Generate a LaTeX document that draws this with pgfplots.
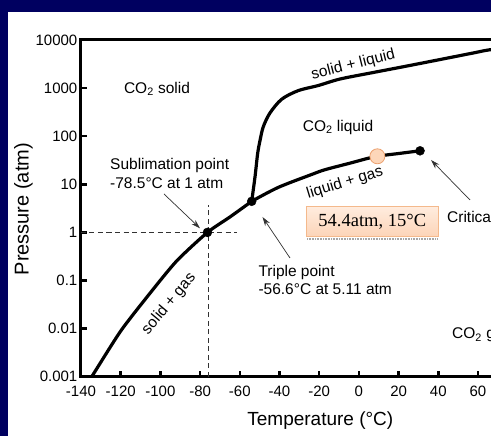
\documentclass[border=0pt]{standalone}
\usepackage{fontspec}
\setmainfont{Liberation Sans}
\newfontfamily\timesfont{Liberation Serif}
\usepackage{pgfplots}
\pgfplotsset{compat=1.18}
\usetikzlibrary{arrows.meta}
\definecolor{navybg}{RGB}{0,0,96}
\definecolor{peachfill}{RGB}{253,214,185}
\definecolor{peachborder}{RGB}{236,160,110}
\definecolor{boxtop}{RGB}{255,236,222}
\definecolor{boxbot}{RGB}{252,212,184}
\definecolor{boxborder}{RGB}{244,185,140}
\definecolor{annot}{RGB}{50,50,50}
\begin{document}
\begin{tikzpicture}[x=1pt,y=1pt]
\useasboundingbox (0,0) rectangle (491,436);
\clip (0,0) rectangle (491,436);
\fill[navybg] (0,0) rectangle (491,436);
\fill[white] (8,0) rectangle (491,424);
\begin{axis}[
  at={(81pt,59.3pt)}, anchor=south west, scale only axis,
  width=436.7pt, height=336.7pt,
  xmin=-140, xmax=80, ymode=log, ymin=1e-3, ymax=1e4,
  xtick={-140,-120,-100,-80,-60,-40,-20,0,20,40,60,80},
  xticklabels={-140,-120,-100,-80,-60,-40,-20,0,20,40,60,80},
  ytick={1e-3,1e-2,1e-1,1,10,100,1000,10000},
  yticklabels={0.001,0.01,0.1,1,10,100,1000,10000},
  yminorticks=false, xminorticks=false,
  tick align=inside, xtick pos=left, ytick pos=left,
  major tick length=6pt,
  every tick/.style={black, line width=2.5pt},
  axis line style={black, line width=3pt},
  tick label style={font=\fontsize{15}{18}\selectfont, inner sep=3.5pt},
  xticklabel style={yshift=-6pt},
  clip=true,
]
% dashed guide lines
\addplot[annot, line width=1pt, dash pattern=on 5pt off 3.5pt] coordinates {(-140,1) (-61.6,1)};
\addplot[annot, line width=1pt, dash pattern=on 5pt off 3.5pt] coordinates {(-76.0,0.001) (-76.0,3.8)};
% solid + gas
\addplot[black, line width=3.2pt, smooth, tension=0.4] coordinates {
 (-136.5,0.0008) (-134.6,0.001) (-120,0.0089) (-105.2,0.0546) (-91.8,0.255) (-76.3,1) (-64.9,2.10) (-54,4.43)};
% liquid + gas
\addplot[black, line width=3.2pt, smooth, tension=0.5] coordinates {
 (-54,4.43) (-40.6,8.63) (-23.8,16.0) (-17.1,20.1) (-4.5,27.5) (8.1,37.5) (20.7,44.0) (30.8,49.7)};
% solid + liquid
\addplot[black, line width=3.2pt, smooth, tension=0.5] coordinates {
 (-54,4.43) (-52.3,14.7) (-51.0,44.0) (-49.8,81.8) (-48.2,156) (-44.8,304) (-38.9,587) (-30.5,888)
 (-20.5,1130) (-9.5,1545) (7.3,2113) (24.1,2871) (40.9,3927) (57.6,5370) (66,6266) (80,7200)};
% points
\addplot[only marks, mark=*, mark size=4.5pt, black] coordinates {(-76.3,1) (-54,4.43) (30.8,49.7)};
\addplot[only marks, mark=*, mark size=7.5pt, mark options={fill=peachfill, draw=peachborder, line width=0.8pt}] coordinates {(9.3,38.2)};
\end{axis}
% axis labels
\node[rotate=90, font=\fontsize{20}{24}\selectfont] at (23.4,226.8) {Pressure (atm)};
\node[font=\fontsize{19}{23}\selectfont] at (320.3,15) {Temperature (°C)};
% region labels
\begin{scope}[every node/.style={font=\fontsize{15.5}{18}\selectfont, inner sep=0pt}]
\node at (157,347) {CO\textsubscript{2} solid};
\node at (338,309) {CO\textsubscript{2} liquid};
\node[anchor=west] at (452,101) {CO\textsubscript{2} gas};
\node[anchor=west] at (447,218) {Critical point};
\node[anchor=base west] at (110,266.7) {Sublimation point};
\node[anchor=base west] at (110,247.7) {-78.5°C at 1 atm};
\node[anchor=base west] at (258.3,159.5) {Triple point};
\node[anchor=base west] at (258.3,141.7) {-56.6°C at 5.11 atm};
\node[rotate=14] at (353.3,371) {solid + liquid};
\node[rotate=17] at (345,253) {liquid + gas};
\node[rotate=50] at (169,132) {solid + gas};
\end{scope}
% arrows
\begin{scope}[annot, line width=0.7pt, -{Stealth[length=9pt,width=5.5pt]}]
\draw (164,242) -- (200,207.7);
\draw (290,178) -- (262.5,219);
\draw (470,236) -- (431,276);
\end{scope}
% value box
\draw[gray!70, line width=1.6pt, dash pattern=on 1pt off 0.6pt] (307,197.2) -- (438,197.2);
\node[draw=boxborder, line width=0.8pt, top color=boxtop, bottom color=boxbot,
      minimum width=131.5pt, minimum height=30pt, inner sep=0pt,
      font=\timesfont\fontsize{18.5}{22}\selectfont] at (372.3,214.3) {54.4atm, 15°C};
\end{tikzpicture}
\end{document}
